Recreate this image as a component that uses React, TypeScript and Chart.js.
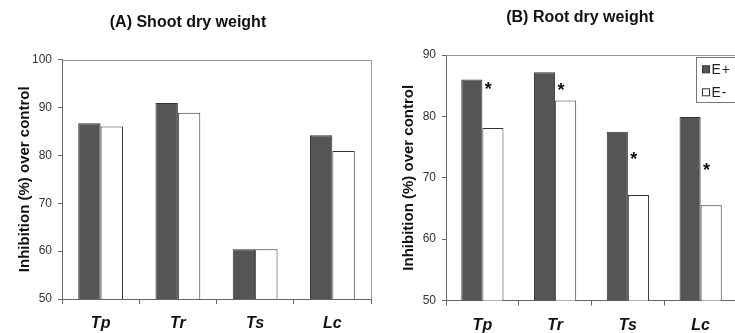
import React, { useEffect, useRef } from 'react';
import { Chart, registerables } from 'chart.js';

Chart.register(...registerables);

const categories = ['Tp', 'Tr', 'Ts', 'Lc'];
const seriesLabels = ['E+', 'E-'];
const shootEPlus = [86.7, 90.9, 60.4, 84.2];
const shootEMinus = [86.0, 88.9, 60.4, 80.9];
const rootEPlus = [86.0, 87.2, 77.5, 79.9];
const rootEMinus = [78.1, 82.6, 67.2, 65.5];
const rootStarLevels = [85.1, 85.0, 73.7, 71.9];
const shootTicks = [50, 60, 70, 80, 90, 100];
const rootTicks = [50, 60, 70, 80, 90];

const FONT = '"Liberation Sans", Arial, sans-serif';
const DARK = '#555555';
const EDGE = '#333333';
const AXIS = '#666666';

const boxPlugin = {
  id: 'boxLines',
  afterDraw(chart: any) {
    const { ctx, chartArea } = chart;
    ctx.save();
    ctx.strokeStyle = '#999999';
    ctx.lineWidth = 1;
    ctx.beginPath();
    ctx.moveTo(Math.round(chartArea.left) + 0.5, Math.round(chartArea.top) + 0.5);
    ctx.lineTo(Math.round(chartArea.right) + 0.5, Math.round(chartArea.top) + 0.5);
    ctx.lineTo(Math.round(chartArea.right) + 0.5, Math.round(chartArea.bottom) + 0.5);
    ctx.stroke();
    ctx.restore();
  },
};

const panelTitlePlugin = {
  id: 'panelTitle',
  afterDraw(chart: any, _args: any, opts: any) {
    if (!opts || !opts.text) return;
    const { ctx } = chart;
    ctx.save();
    ctx.font = 'bold 16px ' + FONT;
    ctx.textAlign = 'center';
    ctx.textBaseline = 'middle';
    ctx.fillStyle = '#111111';
    ctx.fillText(opts.text, opts.x, opts.y);
    ctx.restore();
  },
};

const starsPlugin = {
  id: 'stars',
  afterDatasetsDraw(chart: any, _args: any, opts: any) {
    if (!opts || !opts.levels) return;
    const { ctx } = chart;
    const meta = chart.getDatasetMeta(1);
    const yScale = chart.scales.y;
    ctx.save();
    ctx.font = 'bold 18px ' + FONT;
    ctx.textAlign = 'center';
    ctx.textBaseline = 'alphabetic';
    ctx.fillStyle = '#111111';
    opts.levels.forEach((v: number, i: number) => {
      const bar = meta.data[i];
      if (!bar) return;
      const { x, width } = bar.getProps(['x', 'width'], true);
      const px = x - width / 2 + 5.8;
      const py = yScale.getPixelForValue(v) + 10;
      ctx.fillText('*', px, py);
    });
    ctx.restore();
  },
};

const boxLegendPlugin = {
  id: 'boxLegend',
  afterDraw(chart: any, _args: any, opts: any) {
    if (!opts || !opts.show) return;
    const { ctx, chartArea } = chart;
    const x0 = Math.round(chartArea.right - 41) + 0.5;
    const y0 = Math.round(chartArea.top + 1.5) + 0.5;
    ctx.save();
    ctx.fillStyle = '#ffffff';
    ctx.fillRect(x0, y0, 60, 45);
    ctx.strokeStyle = '#777777';
    ctx.lineWidth = 1;
    ctx.strokeRect(x0, y0, 60, 45);
    ctx.font = '14px ' + FONT;
    ctx.textBaseline = 'middle';
    ctx.textAlign = 'left';
    chart.data.datasets.forEach((ds: any, i: number) => {
      const cy = y0 + 11.8 + i * 23;
      ctx.fillStyle = ds.backgroundColor;
      ctx.fillRect(x0 + 6, cy - 3.5, 7, 7);
      ctx.strokeStyle = EDGE;
      ctx.strokeRect(x0 + 6, cy - 3.5, 7, 7);
      ctx.fillStyle = '#222222';
      (ctx as any).letterSpacing = '1px';
      ctx.fillText(ds.label, x0 + 15, cy + 0.5);
      (ctx as any).letterSpacing = '0px';
    });
    ctx.restore();
  },
};

function makeConfig(p: {
  title: string;
  titleX: number;
  titleY: number;
  plus: number[];
  minus: number[];
  ticks: number[];
  yWidth: number;
  xHeight: number;
  top: number;
  yTitleOffset: number;
  xPad: number;
  rightPad: number;
  legend: boolean;
  stars: number[] | null;
}): any {
  return {
    type: 'bar',
    data: {
      labels: categories,
      datasets: [
        {
          label: seriesLabels[0],
          data: p.plus,
          backgroundColor: DARK,
          borderColor: EDGE,
          borderWidth: 1,
          categoryPercentage: 0.58,
          barPercentage: 1,
        },
        {
          label: seriesLabels[1],
          data: p.minus,
          backgroundColor: '#ffffff',
          borderColor: EDGE,
          borderWidth: 1,
          categoryPercentage: 0.58,
          barPercentage: 1,
        },
      ],
    },
    options: {
      responsive: false,
      animation: false,
      devicePixelRatio: 1,
      layout: { padding: { left: 0, right: p.rightPad, top: p.top, bottom: 0 } },
      plugins: {
        legend: { display: false },
        tooltip: { enabled: false },
        title: { display: false },
        panelTitle: { text: p.title, x: p.titleX, y: p.titleY },
        stars: { levels: p.stars },
        boxLegend: { show: p.legend },
      },
      scales: {
        x: {
          type: 'category',
          offset: true,
          grid: {
            display: true,
            drawOnChartArea: false,
            drawTicks: true,
            tickLength: 5,
            color: AXIS,
            offset: true,
          },
          border: { display: true, color: AXIS },
          ticks: {
            color: '#111111',
            padding: p.xPad,
            maxRotation: 0,
            font: { family: FONT, size: 16, weight: 'bold', style: 'italic' },
          },
          afterFit: (s: any) => {
            s.height = p.xHeight;
          },
        },
        y: {
          min: p.ticks[0],
          max: p.ticks[p.ticks.length - 1],
          grid: {
            display: true,
            drawOnChartArea: false,
            drawTicks: true,
            tickLength: 4,
            color: AXIS,
          },
          border: { display: true, color: AXIS },
          ticks: {
            stepSize: p.ticks[1] - p.ticks[0],
            color: '#333333',
            padding: 6,
            font: { family: FONT, size: 12 },
          },
          title: {
            display: true,
            text: 'Inhibition (%) over control',
            color: '#111111',
            font: { family: FONT, size: 15, weight: 'bold' },
            padding: { top: p.yTitleOffset, bottom: 0 },
          },
          afterFit: (s: any) => {
            s.width = p.yWidth;
          },
        },
      },
    },
    plugins: [boxPlugin, starsPlugin, boxLegendPlugin, panelTitlePlugin],
  };
}

function ChartCanvas(props: { config: any; left: number; width: number }) {
  const ref = useRef<HTMLCanvasElement | null>(null);
  useEffect(() => {
    if (!ref.current) return;
    const chart = new Chart(ref.current, props.config);
    return () => chart.destroy();
  }, []);
  return (
    <canvas
      ref={ref}
      width={props.width}
      height={333}
      style={{ position: 'absolute', left: props.left, top: 0, width: props.width, height: 333 }}
    />
  );
}

export default function App() {
  const shootConfig = makeConfig({
    title: '(A) Shoot dry weight',
    titleX: 188,
    titleY: 22.5,
    plus: shootEPlus,
    minus: shootEMinus,
    ticks: shootTicks,
    yWidth: 62,
    xHeight: 34,
    top: 59.5,
    yTitleOffset: 16,
    xPad: 9.5,
    rightPad: 2,
    legend: false,
    stars: null,
  });
  const rootConfig = makeConfig({
    title: '(B) Root dry weight',
    titleX: 210,
    titleY: 17.5,
    plus: rootEPlus,
    minus: rootEMinus,
    ticks: rootTicks,
    yWidth: 76,
    xHeight: 32.5,
    top: 55,
    yTitleOffset: 30,
    xPad: 10.5,
    rightPad: 53,
    legend: true,
    stars: rootStarLevels,
  });
  return (
    <div
      style={{
        position: 'fixed',
        left: 0,
        top: 0,
        width: 735,
        height: 333,
        overflow: 'hidden',
        background: '#ffffff',
      }}
    >
      <ChartCanvas config={shootConfig} left={0} width={373} />
      <ChartCanvas config={rootConfig} left={370} width={420} />
    </div>
  );
}
